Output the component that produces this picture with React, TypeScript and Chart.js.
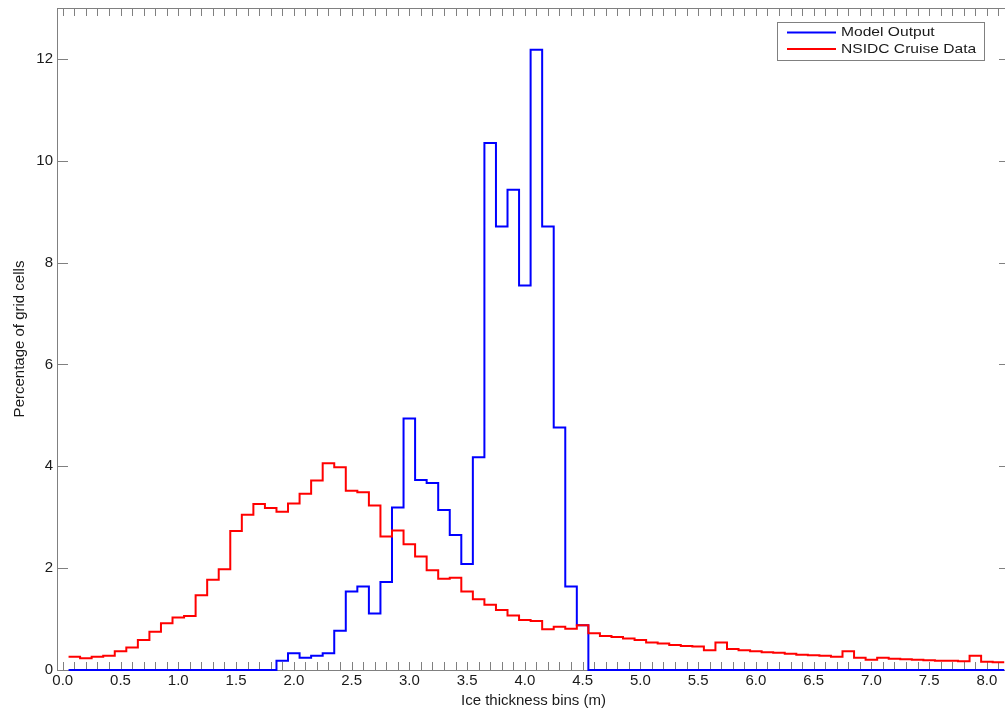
import React, { useEffect, useRef } from "react";
import { Chart, registerables } from "chart.js";

Chart.register(...registerables);

// ---- data ----
const binCenters = [
  0.1, 0.2, 0.3, 0.4, 0.5, 0.6, 0.7, 0.8, 0.9, 1.0,
  1.1, 1.2, 1.3, 1.4, 1.5, 1.6, 1.7, 1.8, 1.9, 2.0,
  2.1, 2.2, 2.3, 2.4, 2.5, 2.6, 2.7, 2.8, 2.9, 3.0,
  3.1, 3.2, 3.3, 3.4, 3.5, 3.6, 3.7, 3.8, 3.9, 4.0,
  4.1, 4.2, 4.3, 4.4, 4.5, 4.6, 4.7, 4.8, 4.9, 5.0,
  5.1, 5.2, 5.3, 5.4, 5.5, 5.6, 5.7, 5.8, 5.9, 6.0,
  6.1, 6.2, 6.3, 6.4, 6.5, 6.6, 6.7, 6.8, 6.9, 7.0,
  7.1, 7.2, 7.3, 7.4, 7.5, 7.6, 7.7, 7.8, 7.9, 8.0,
  8.1,
];
const binWidth = 0.1;

const modelOutput = [
  0, 0, 0, 0, 0, 0, 0, 0, 0, 0,
  0, 0, 0, 0, 0, 0, 0, 0, 0.18, 0.33,
  0.24, 0.28, 0.33, 0.77, 1.54, 1.64, 1.11, 1.73, 3.19, 4.94,
  3.73, 3.67, 3.14, 2.65, 2.08, 4.18, 10.35, 8.71, 9.43, 7.55,
  12.18, 8.71, 4.76, 1.64, 0.88, 0, 0, 0, 0, 0,
  0, 0, 0, 0, 0, 0, 0, 0, 0, 0,
  0, 0, 0, 0, 0, 0, 0, 0, 0, 0,
  0, 0, 0, 0, 0, 0, 0, 0, 0, 0,
  0,
];

const nsidcCruise = [
  0.26, 0.23, 0.26, 0.28, 0.37, 0.44, 0.59, 0.75, 0.92, 1.03,
  1.06, 1.47, 1.77, 1.98, 2.73, 3.05, 3.26, 3.18, 3.11, 3.27,
  3.46, 3.72, 4.06, 3.98, 3.52, 3.49, 3.23, 2.62, 2.74, 2.47,
  2.23, 1.96, 1.79, 1.81, 1.54, 1.39, 1.28, 1.18, 1.07, 0.98,
  0.96, 0.8, 0.85, 0.81, 0.88, 0.72, 0.67, 0.65, 0.62, 0.59,
  0.54, 0.52, 0.49, 0.47, 0.46, 0.39, 0.54, 0.41, 0.39, 0.37,
  0.35, 0.34, 0.32, 0.3, 0.29, 0.28, 0.26, 0.37, 0.24, 0.2,
  0.24, 0.22, 0.21, 0.2, 0.19, 0.18, 0.18, 0.17, 0.28, 0.16,
  0.15,
];

const seriesLabels = ["Model Output", "NSIDC Cruise Data"];
const xTickValues = [0, 0.5, 1, 1.5, 2, 2.5, 3, 3.5, 4, 4.5, 5, 5.5, 6, 6.5, 7, 7.5, 8];
const yTickValues = [0, 2, 4, 6, 8, 10, 12];
const xMinorStep = 0.1;
const xTitle = "Ice thickness bins (m)";
const yTitle = "Percentage of grid cells";

// ---- helpers ----
function histogramPoints(values: number[]) {
  const pts: { x: number; y: number }[] = [];
  values.forEach((v, i) => {
    pts.push({ x: binCenters[i] - binWidth / 2, y: v });
    pts.push({ x: binCenters[i] + binWidth / 2, y: v });
  });
  return pts;
}

const AXIS_COLOR = "#808080";
const TEXT_COLOR = "#1a1a1a";
const FONT_FAMILY = "'Liberation Sans', Arial, Helvetica, sans-serif";

const framePlugin = {
  id: "idlFrame",
  beforeDatasetsDraw(chart: any) {
    const { ctx, chartArea, scales } = chart;
    const { left, right, top, bottom } = chartArea;
    const x = scales.x;
    const y = scales.y;
    ctx.save();
    ctx.strokeStyle = AXIS_COLOR;
    ctx.lineWidth = 1;
    ctx.strokeRect(left + 0.5, top + 0.5, right - left, bottom - top);
    ctx.beginPath();
    // y major ticks, both sides, pointing inward
    yTickValues.forEach((v) => {
      const py = Math.round(y.getPixelForValue(v)) + 0.5;
      ctx.moveTo(left, py);
      ctx.lineTo(left + 11, py);
      ctx.moveTo(right, py);
      ctx.lineTo(right - 11, py);
    });
    // x minor ticks top and bottom, pointing inward
    const n = Math.floor((x.max + 1e-9) / xMinorStep);
    for (let i = 0; i <= n; i++) {
      const v = i * xMinorStep;
      const px = Math.round(x.getPixelForValue(v)) + 0.5;
      ctx.moveTo(px, bottom);
      ctx.lineTo(px, bottom - 8);
      ctx.moveTo(px, top);
      ctx.lineTo(px, top + 8);
    }
    ctx.stroke();
    ctx.restore();
  },
  afterDatasetsDraw(chart: any) {
    const { ctx, chartArea } = chart;
    const { right, top } = chartArea;
    ctx.save();
    // legend box
    const bx = right - 233;
    const by = top + 14;
    const bw = 207;
    const bh = 38;
    ctx.fillStyle = "#ffffff";
    ctx.fillRect(bx, by, bw, bh);
    ctx.strokeStyle = AXIS_COLOR;
    ctx.lineWidth = 1;
    ctx.strokeRect(bx + 0.5, by + 0.5, bw, bh);
    chart.data.datasets.forEach((ds: any, i: number) => {
      const ly = by + 10.5 + i * 16.5;
      ctx.strokeStyle = ds.borderColor;
      ctx.lineWidth = 2;
      ctx.beginPath();
      ctx.moveTo(bx + 10, ly);
      ctx.lineTo(bx + 59, ly);
      ctx.stroke();
      ctx.save();
      ctx.translate(bx + 64, ly);
      ctx.scale(1.2, 1);
      ctx.fillStyle = TEXT_COLOR;
      ctx.font = `13px ${FONT_FAMILY}`;
      ctx.textBaseline = "middle";
      ctx.textAlign = "left";
      ctx.fillText(ds.label, 0, 0);
      ctx.restore();
    });
    ctx.restore();
  },
};

const lineClip = { left: 0, top: 0, right: 0, bottom: 1 };

export default function App() {
  const canvasRef = useRef<HTMLCanvasElement | null>(null);

  useEffect(() => {
    const canvas = canvasRef.current;
    if (!canvas) return;
    const chart = new Chart(canvas, {
      type: "line",
      data: {
        datasets: [
          {
            label: seriesLabels[0],
            data: histogramPoints(modelOutput),
            borderColor: "#0000ff",
            backgroundColor: "#0000ff",
            borderWidth: 2,
            pointRadius: 0,
            tension: 0,
            fill: false,
            clip: lineClip,
            order: 1,
          },
          {
            label: seriesLabels[1],
            data: histogramPoints(nsidcCruise),
            borderColor: "#ff0000",
            backgroundColor: "#ff0000",
            borderWidth: 2,
            pointRadius: 0,
            tension: 0,
            fill: false,
            clip: lineClip,
            order: 0,
          },
        ],
      },
      options: {
        responsive: false,
        devicePixelRatio: 1,
        animation: false,
        parsing: false,
        layout: { padding: { top: 8, right: 10, left: 0, bottom: 0 } },
        plugins: {
          legend: { display: false },
          tooltip: { enabled: false },
        },
        scales: {
          x: {
            type: "linear",
            min: -0.05,
            max: 8.2,
            grid: { display: false, drawTicks: false },
            border: { display: false },
            afterBuildTicks: (s: any) => {
              s.ticks = xTickValues.map((v) => ({ value: v }));
            },
            afterFit: (s: any) => {
              s.height = 43;
              s.paddingLeft = 0;
              s.paddingRight = 0;
            },
            ticks: {
              autoSkip: false,
              maxRotation: 0,
              padding: 2,
              color: TEXT_COLOR,
              font: { family: FONT_FAMILY, size: 15 },
              callback: (v: any) => Number(v).toFixed(1),
            },
            title: {
              display: true,
              text: xTitle,
              color: TEXT_COLOR,
              font: { family: FONT_FAMILY, size: 15 },
              padding: { top: 0, bottom: 3 },
            },
          },
          y: {
            type: "linear",
            min: 0,
            max: 13,
            grid: { display: false, drawTicks: false },
            border: { display: false },
            afterBuildTicks: (s: any) => {
              s.ticks = yTickValues.map((v) => ({ value: v }));
            },
            afterFit: (s: any) => {
              s.width = 57;
              s.paddingTop = 0;
              s.paddingBottom = 0;
            },
            ticks: {
              padding: 4,
              color: TEXT_COLOR,
              font: { family: FONT_FAMILY, size: 15 },
              callback: (v: any) => String(v),
            },
            title: {
              display: true,
              text: yTitle,
              color: TEXT_COLOR,
              font: { family: FONT_FAMILY, size: 15 },
              padding: { top: 11, bottom: 0 },
            },
          },
        },
      },
      plugins: [framePlugin],
    } as any);
    return () => chart.destroy();
  }, []);

  return (
    <div
      style={{
        position: "fixed",
        left: 0,
        top: 0,
        width: 1005,
        height: 713,
        overflow: "hidden",
        background: "#ffffff",
      }}
    >
      <canvas
        ref={canvasRef}
        width={1020}
        height={713}
        style={{ display: "block", width: 1020, height: 713 }}
      />
    </div>
  );
}
